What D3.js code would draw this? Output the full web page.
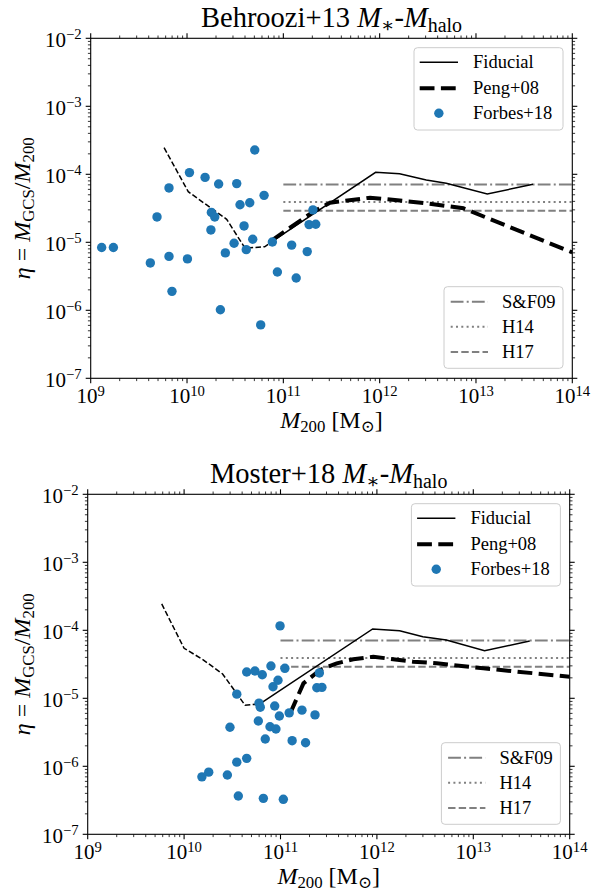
<!DOCTYPE html>
<html><head><meta charset="utf-8">
<script src="https://cdn.jsdelivr.net/npm/d3@7"></script>
<style>
body{margin:0;background:#fff}
svg{display:block}
text{font-family:"Liberation Serif","DejaVu Serif",serif;fill:#000}
</style>
</head><body>
<svg id="chart" width="606" height="895"></svg>
<script>
// ---------------- data ----------------
const xDomain = [1e9, 1e14];
const yDomain = [1e-7, 1e-2];
const xTickExponents = [9, 10, 11, 12, 13, 14];
const yTickExponents = [-7, -6, -5, -4, -3, -2];

const panelTitles = ["Behroozi+13", "Moster+18"];
const legendNames = ["Fiducial", "Peng+08", "Forbes+18"];
const refLineNames = ["S&F09", "H14", "H17"];
const refLineValues = [7.1e-5, 3.9e-5, 2.9e-5];
const refLineRange = [1e11, 1e14];

// Behroozi+13 panel
const behForbesM = [1.30e9, 1.72e9, 4.16e9, 4.88e9, 6.50e9, 6.50e9, 6.98e9, 1.01e10, 1.06e10, 1.54e10,
  2.13e10, 1.79e10, 1.94e10, 1.77e10, 2.22e10, 2.50e10, 3.08e10, 3.28e10, 3.55e10, 3.91e10,
  4.12e10, 4.48e10, 4.81e10, 5.05e10, 5.82e10, 6.31e10, 7.69e10, 8.67e10, 1.22e11, 1.36e11,
  2.03e11, 1.85e11, 2.17e11, 1.77e11];
const behForbesEta = [8.4e-6, 8.4e-6, 4.97e-6, 2.36e-5, 6.3e-5, 6.2e-6, 1.90e-6, 5.7e-6, 1.06e-4, 9.0e-5,
  7.2e-5, 2.75e-5, 2.36e-5, 1.52e-5, 1.02e-6, 7.0e-6, 9.7e-6, 7.3e-5, 3.57e-5, 1.74e-5,
  7.8e-6, 3.82e-5, 1.11e-5, 2.28e-4, 6.1e-7, 4.9e-5, 1.01e-5, 3.66e-6, 9.1e-6, 2.99e-6,
  3.0e-5, 1.82e-5, 1.84e-5, 7.3e-6];
const behExtrapM = [5.78e9, 1.03e10, 1.60e10, 2.58e10, 4.0e10, 6.4e10, 7.6e10];
const behExtrapEta = [2.46e-4, 5.55e-5, 3.54e-5, 2.18e-5, 8.2e-6, 8.6e-6, 1.02e-5];
const behFiducialM = [7.6e10, 9.08e11, 1.61e12, 3.05e12, 4.91e12, 1.31e13, 3.91e13];
const behFiducialEta = [1.02e-5, 1.07e-4, 1.02e-4, 8.24e-5, 7.38e-5, 5.13e-5, 7.13e-5];
const behPengM = [7.6e10, 2.05e11, 3.05e11, 7.94e11, 1.19e12, 3.08e12, 7.40e12, 1e14];
const behPengEta = [1.07e-5, 2.82e-5, 3.82e-5, 4.53e-5, 4.29e-5, 3.75e-5, 3.16e-5, 7.1e-6];

// Moster+18 panel
const mosForbesM = [1.53e10, 1.80e10, 2.81e10, 2.99e10, 3.52e10, 3.52e10, 3.65e10, 4.46e10, 4.46e10, 5.43e10,
  5.89e10, 5.98e10, 6.17e10, 6.47e10, 6.64e10, 6.95e10, 7.78e10, 7.96e10, 8.36e10, 8.71e10,
  8.97e10, 9.42e10, 9.73e10, 9.89e10, 1.07e11, 1.11e11, 1.23e11, 1.32e11, 1.67e11, 1.82e11,
  2.28e11, 2.38e11, 2.69e11, 2.53e11];
const mosForbesEta = [7.0e-7, 8.2e-7, 7.45e-7, 3.75e-6, 1.15e-6, 1.15e-5, 3.66e-7, 1.31e-6, 2.44e-5, 2.52e-5,
  4.63e-6, 8.5e-6, 7.4e-6, 2.22e-5, 3.38e-7, 2.52e-6, 3.82e-6, 2.99e-5, 1.48e-5, 7.7e-6,
  3.54e-6, 1.84e-5, 5.5e-6, 1.16e-4, 3.27e-7, 2.76e-5, 6.1e-6, 2.38e-6, 6.7e-6, 2.22e-6,
  5.7e-6, 1.43e-5, 1.45e-5, 2.36e-5];
const mosExtrapM = [5.86e9, 1.0e10, 1.55e10, 2.51e10, 4.29e10, 5.45e10, 5.89e10];
const mosExtrapEta = [2.44e-4, 5.43e-5, 3.75e-5, 2.28e-5, 7.9e-6, 8.2e-6, 8.0e-6];
const mosFiducialM = [5.89e10, 9.04e11, 1.72e12, 3.0e12, 5.25e12, 1.31e13, 3.85e13];
const mosFiducialEta = [8.0e-6, 1.045e-4, 9.86e-5, 8.05e-5, 7.19e-5, 5.01e-5, 6.97e-5];
const mosPengM = [1.26e11, 1.73e11, 2.57e11, 3.83e11, 5.69e11, 9.18e11, 2.37e12, 4.17e12, 1.27e13, 1e14];
const mosPengEta = [6.0e-6, 1.66e-5, 2.61e-5, 3.27e-5, 3.75e-5, 4.09e-5, 3.46e-5, 3.27e-5, 2.76e-5, 2.07e-5];

// ---------------- drawing ----------------
const svg = d3.select("#chart");
const BLUE = "#1f77b4", GREY = "#808080";
const TICK_FS = 21, LEG_FS = 18.5, TITLE_FS = 28.5, LABEL_FS = 24;
const refDash = ["12.8,3.2,2,3.2", "2,3.3", "7.4,3.2"];

const panels = [
  {box: [90.7, 572.3, 38.3, 378.3], title: panelTitles[0],
   fM: behForbesM, fE: behForbesEta, xM: behExtrapM, xE: behExtrapEta,
   dM: behFiducialM, dE: behFiducialEta, pM: behPengM, pE: behPengEta},
  {box: [87.7, 569.7, 494.3, 834.3], title: panelTitles[1],
   fM: mosForbesM, fE: mosForbesEta, xM: mosExtrapM, xE: mosExtrapEta,
   dM: mosFiducialM, dE: mosFiducialEta, pM: mosPengM, pE: mosPengEta}
];

function addPow(t, e, fs) {
  t.append("tspan").text("10");
  t.append("tspan").attr("font-size", fs * 0.7).attr("dy", -fs * 0.36)
    .text(e < 0 ? "\u2212" + (-e) : String(e));
}

panels.forEach((p, pi) => {
  const [L, R, T, B] = p.box;
  const x = d3.scaleLog().domain(xDomain).range([L, R]);
  const y = d3.scaleLog().domain(yDomain).range([B, T]);
  const g = svg.append("g");
  const clipId = "clip" + pi;
  g.append("clipPath").attr("id", clipId).append("rect")
    .attr("x", L).attr("y", T).attr("width", R - L).attr("height", B - T);

  // reference horizontal lines
  const plot = g.append("g").attr("clip-path", `url(#${clipId})`);
  refLineValues.forEach((v, i) => {
    plot.append("line").attr("x1", x(refLineRange[0])).attr("x2", x(refLineRange[1]))
      .attr("y1", y(v)).attr("y2", y(v)).attr("stroke", GREY).attr("stroke-width", 2)
      .attr("stroke-dasharray", refDash[i]);
  });
  const line = d3.line().x(d => x(d[0])).y(d => y(d[1]));
  const zip = (a, b) => a.map((v, i) => [v, b[i]]);
  plot.append("path").attr("d", line(zip(p.dM, p.dE))).attr("fill", "none")
    .attr("stroke", "#000").attr("stroke-width", 1.5);
  plot.append("path").attr("d", line(zip(p.xM, p.xE))).attr("fill", "none")
    .attr("stroke", "#000").attr("stroke-width", 1.5).attr("stroke-dasharray", "5.5,2.4");
  plot.append("path").attr("d", line(zip(p.pM, p.pE))).attr("fill", "none")
    .attr("stroke", "#000").attr("stroke-width", 4).attr("stroke-dasharray", "14.8,6.4");
  plot.selectAll("circle.f").data(zip(p.fM, p.fE)).enter().append("circle")
    .attr("cx", d => x(d[0])).attr("cy", d => y(d[1])).attr("r", 4.7).attr("fill", BLUE);

  // ticks (outward, on all four sides)
  const xt = x.ticks(), yt = y.ticks();
  const isMajor = v => Math.abs(Math.log10(v) - Math.round(Math.log10(v))) < 1e-6;
  const tk = g.append("g").attr("stroke", "#000");
  xt.forEach(v => {
    const len = isMajor(v) ? 5 : 2.8, w = isMajor(v) ? 1.1 : 0.8;
    tk.append("line").attr("x1", x(v)).attr("x2", x(v)).attr("y1", B).attr("y2", B + len).attr("stroke-width", w);
    tk.append("line").attr("x1", x(v)).attr("x2", x(v)).attr("y1", T).attr("y2", T - len).attr("stroke-width", w);
  });
  yt.forEach(v => {
    const len = isMajor(v) ? 5 : 2.8, w = isMajor(v) ? 1.1 : 0.8;
    tk.append("line").attr("y1", y(v)).attr("y2", y(v)).attr("x1", L).attr("x2", L - len).attr("stroke-width", w);
    tk.append("line").attr("y1", y(v)).attr("y2", y(v)).attr("x1", R).attr("x2", R + len).attr("stroke-width", w);
  });
  g.append("rect").attr("x", L).attr("y", T).attr("width", R - L).attr("height", B - T)
    .attr("fill", "none").attr("stroke", "#000").attr("stroke-width", 1.1);

  // tick labels
  xTickExponents.forEach(e => {
    const t = g.append("text").attr("x", x(Math.pow(10, e))).attr("y", B + 25)
      .attr("text-anchor", "middle").attr("font-size", TICK_FS);
    addPow(t, e, TICK_FS);
  });
  yTickExponents.forEach(e => {
    const t = g.append("text").attr("x", L - 9).attr("y", y(Math.pow(10, e)) + 8.5)
      .attr("text-anchor", "end").attr("font-size", TICK_FS);
    addPow(t, e, TICK_FS);
  });

  // title
  const tt = g.append("text").attr("x", (L + R) / 2).attr("y", T - 11.5)
    .attr("text-anchor", "middle").attr("font-size", TITLE_FS);
  tt.append("tspan").text(p.title + " ");
  tt.append("tspan").attr("font-style", "italic").text("M");
  tt.append("tspan").attr("font-size", TITLE_FS * 0.7).attr("dy", 5).text("\u2217");
  tt.append("tspan").attr("dy", -5).text("-");
  tt.append("tspan").attr("font-style", "italic").text("M");
  tt.append("tspan").attr("font-size", TITLE_FS * 0.7).attr("dy", 5).text("halo");

  // x label
  const xl = g.append("text").attr("x", (L + R) / 2).attr("y", B + 50)
    .attr("text-anchor", "middle").attr("font-size", LABEL_FS);
  xl.append("tspan").attr("font-style", "italic").text("M");
  xl.append("tspan").attr("font-size", LABEL_FS * 0.7).attr("dy", 4).text("200");
  xl.append("tspan").attr("dy", -4).text(" [M");
  xl.append("tspan").attr("font-size", LABEL_FS * 0.7).attr("dy", 4).text("\u2299");
  xl.append("tspan").attr("dy", -4).text("]");

  // y label
  const yl = g.append("text").attr("transform", `translate(30,${(T + B) / 2}) rotate(-90)`)
    .attr("text-anchor", "middle").attr("font-size", LABEL_FS);
  yl.append("tspan").attr("font-style", "italic").text("\u03b7");
  yl.append("tspan").text(" = ");
  yl.append("tspan").attr("font-style", "italic").text("M");
  yl.append("tspan").attr("font-size", LABEL_FS * 0.7).attr("dy", 4).text("GCS");
  yl.append("tspan").attr("dy", -4).text("/");
  yl.append("tspan").attr("font-style", "italic").text("M");
  yl.append("tspan").attr("font-size", LABEL_FS * 0.7).attr("dy", 4).text("200");

  // legend 1 (upper right)
  const l1 = {x0: R - 158.3, x1: R - 9.3, y0: T + 9.4, y1: T + 91.7};
  g.append("rect").attr("x", l1.x0).attr("y", l1.y0).attr("width", l1.x1 - l1.x0).attr("height", l1.y1 - l1.y0)
    .attr("rx", 3.5).attr("fill", "#fff").attr("fill-opacity", 0.8).attr("stroke", "#cccccc").attr("stroke-width", 1);
  const rows1 = [T + 24, T + 50, T + 75];
  const hx0 = l1.x0 + 5.7, hx1 = l1.x0 + 44, tx = l1.x0 + 59;
  g.append("line").attr("x1", hx0).attr("x2", hx1).attr("y1", rows1[0]).attr("y2", rows1[0])
    .attr("stroke", "#000").attr("stroke-width", 1.5);
  g.append("line").attr("x1", hx0).attr("x2", hx1).attr("y1", rows1[1]).attr("y2", rows1[1])
    .attr("stroke", "#000").attr("stroke-width", 4).attr("stroke-dasharray", "14.8,6.4");
  g.append("circle").attr("cx", (hx0 + hx1) / 2).attr("cy", rows1[2]).attr("r", 4.7).attr("fill", BLUE);
  legendNames.forEach((n, i) => {
    g.append("text").attr("x", tx).attr("y", rows1[i] + 6).attr("font-size", LEG_FS).text(n);
  });

  // legend 2 (lower right)
  const l2 = {x0: R - 128.3, x1: R - 9.3, y0: B - 91.6, y1: B - 10};
  g.append("rect").attr("x", l2.x0).attr("y", l2.y0).attr("width", l2.x1 - l2.x0).attr("height", l2.y1 - l2.y0)
    .attr("rx", 3.5).attr("fill", "#fff").attr("fill-opacity", 0.8).attr("stroke", "#cccccc").attr("stroke-width", 1);
  const rows2 = [B - 76.6, B - 51.6, B - 26.4];
  refLineNames.forEach((n, i) => {
    g.append("line").attr("x1", l2.x0 + 6.7).attr("x2", l2.x0 + 44).attr("y1", rows2[i]).attr("y2", rows2[i])
      .attr("stroke", GREY).attr("stroke-width", 2).attr("stroke-dasharray", refDash[i]);
    g.append("text").attr("x", l2.x0 + 58).attr("y", rows2[i] + 6).attr("font-size", LEG_FS).text(n);
  });
});
</script>
</body></html>
